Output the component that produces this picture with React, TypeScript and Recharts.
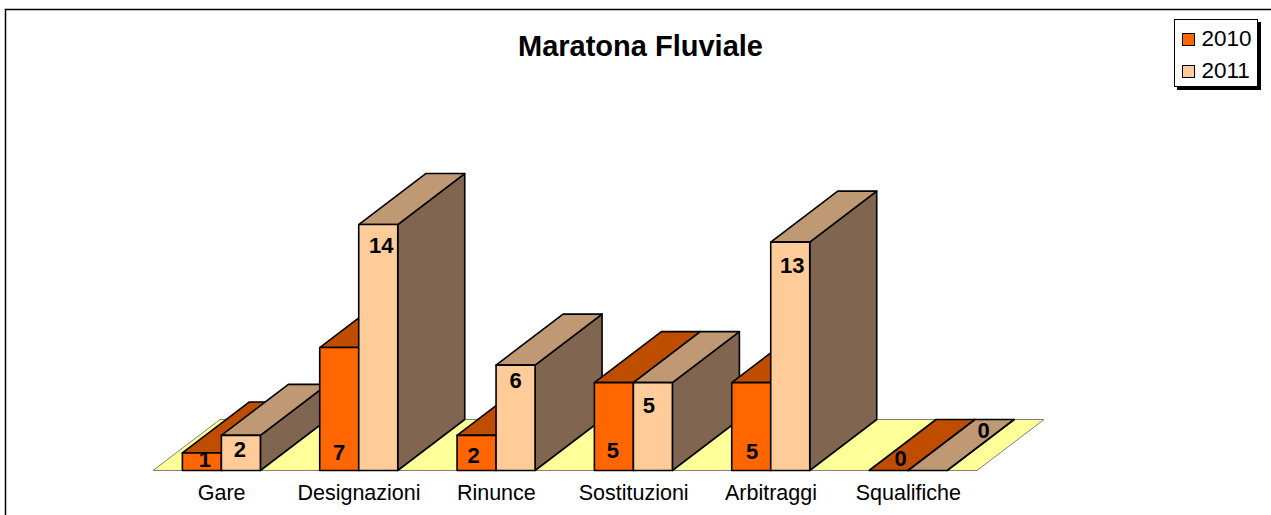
import { BarChart, Bar, XAxis, YAxis, Legend } from "recharts";

const categories = ["Gare", "Designazioni", "Rinunce", "Sostituzioni", "Arbitraggi", "Squalifiche"];
const values2010 = [1, 7, 2, 5, 5, 0];
const values2011 = [2, 14, 6, 5, 13, 0];
const seriesNames = ["2010", "2011"];

// hand placed data labels, relative to the bar (Excel scatters them around)
const nudge2010 = [[3, 7], [0, 105], [-3, 20], [-1, 68], [1, 69], [12, -12]];
const nudge2011 = [[-1, 14], [3, 21], [0, 15], [-4, 23], [2, 23], [56, -40]];

const FONT = "'Liberation Sans', Arial, sans-serif";
const DEPTH_X = 67;
const DEPTH_Y = 51;

const colors2010 = { front: "#FF6600", top: "#BF4D00", side: "#804400" };
const colors2011 = { front: "#FFCC99", top: "#BF9973", side: "#806650" };

// one row per category, with one key per bar, so each bar gets its own layer
const chartData = categories.map((name, i) => ({
  name,
  [`a${i}`]: values2010[i],
  [`b${i}`]: values2011[i],
}));

const makeShape = (index: number, colors: typeof colors2010, label: number, nudge: number[]) => (props: any) => {
  const { x, y, width, height, payload } = props;
  if (payload.name !== categories[index]) return <g />;
  const right = x + width;
  const bottom = y + height;
  const stroke = { stroke: "#000", strokeWidth: 1.6, strokeLinejoin: "round" as const };
  return (
    <g>
      <polygon
        points={`${right},${y} ${right + DEPTH_X},${y - DEPTH_Y} ${right + DEPTH_X},${bottom - DEPTH_Y} ${right},${bottom}`}
        fill={colors.side}
        {...stroke}
      />
      <polygon
        points={`${x},${y} ${x + DEPTH_X},${y - DEPTH_Y} ${right + DEPTH_X},${y - DEPTH_Y} ${right},${y}`}
        fill={colors.top}
        {...stroke}
      />
      <rect x={x} y={y} width={width} height={height} fill={colors.front} {...stroke} />
      <text
        x={x + width / 2 + nudge[0]}
        y={y + nudge[1]}
        textAnchor="middle"
        dominantBaseline="central"
        fontFamily={FONT}
        fontWeight="bold"
        fontSize={22}
        fill="#000"
      >
        {label}
      </text>
    </g>
  );
};

const LegendBox = () => (
  <div style={{ position: "relative", width: 84, height: 68, fontFamily: FONT, fontSize: 22.5, color: "#000" }}>
    <div style={{ position: "absolute", left: 3, top: 3, width: 84, height: 68, background: "#000" }} />
    <div style={{ position: "absolute", left: 0, top: 0, width: 82, height: 66, background: "#fff", border: "1px solid #000" }} />
    {seriesNames.map((name, i) => (
      <div key={name}>
        <div
          style={{
            position: "absolute",
            left: 8,
            top: 14 + i * 32,
            width: 11,
            height: 11,
            background: i === 0 ? colors2010.front : colors2011.front,
            border: "1px solid #000",
          }}
        />
        <div style={{ position: "absolute", left: 27.5, top: 7 + i * 32, lineHeight: "26px" }}>{name}</div>
      </div>
    ))}
  </div>
);

export default function App() {
  return (
    <div style={{ position: "fixed", left: 0, top: 0, width: 1271, height: 515, background: "#fff" }}>
      <BarChart
        width={1271}
        height={515}
        data={chartData}
        margin={{ top: 189.4, right: 294, bottom: 14.5, left: 153 }}
        barCategoryGap="21.4%"
        barGap={0}
      >
        <path d="M5.5 515 V9.5 H1271" fill="none" stroke="#000" strokeWidth={1.5} />
        <text x={640.5} y={56} textAnchor="middle" fontFamily={FONT} fontWeight="bold" fontSize={29} fill="#000">
          Maratona Fluviale
        </text>
        <polygon points="153,470.5 220,419.5 1044,419.5 977,470.5" fill="#FFFF99" stroke="#808080" strokeWidth={1} />
        <XAxis
          dataKey="name"
          axisLine={false}
          tickLine={false}
          interval={0}
          tickMargin={8}
          tick={{ fontFamily: FONT, fontSize: 21.5, fill: "#000" }}
        />
        <YAxis hide domain={[0, 16]} />
        <Legend
          layout="vertical"
          align="center"
          verticalAlign="middle"
          content={<LegendBox />}
          wrapperStyle={{ left: 1174, top: 19, right: "auto", bottom: "auto", width: 87, height: 71 }}
        />
        {categories.flatMap((_, i) => [
          <Bar
            key={`a${i}`}
            dataKey={`a${i}`}
            stackId="a"
            isAnimationActive={false}
            shape={makeShape(i, colors2010, values2010[i], nudge2010[i])}
          />,
          <Bar
            key={`b${i}`}
            dataKey={`b${i}`}
            stackId="b"
            isAnimationActive={false}
            shape={makeShape(i, colors2011, values2011[i], nudge2011[i])}
          />,
        ])}
      </BarChart>
    </div>
  );
}
